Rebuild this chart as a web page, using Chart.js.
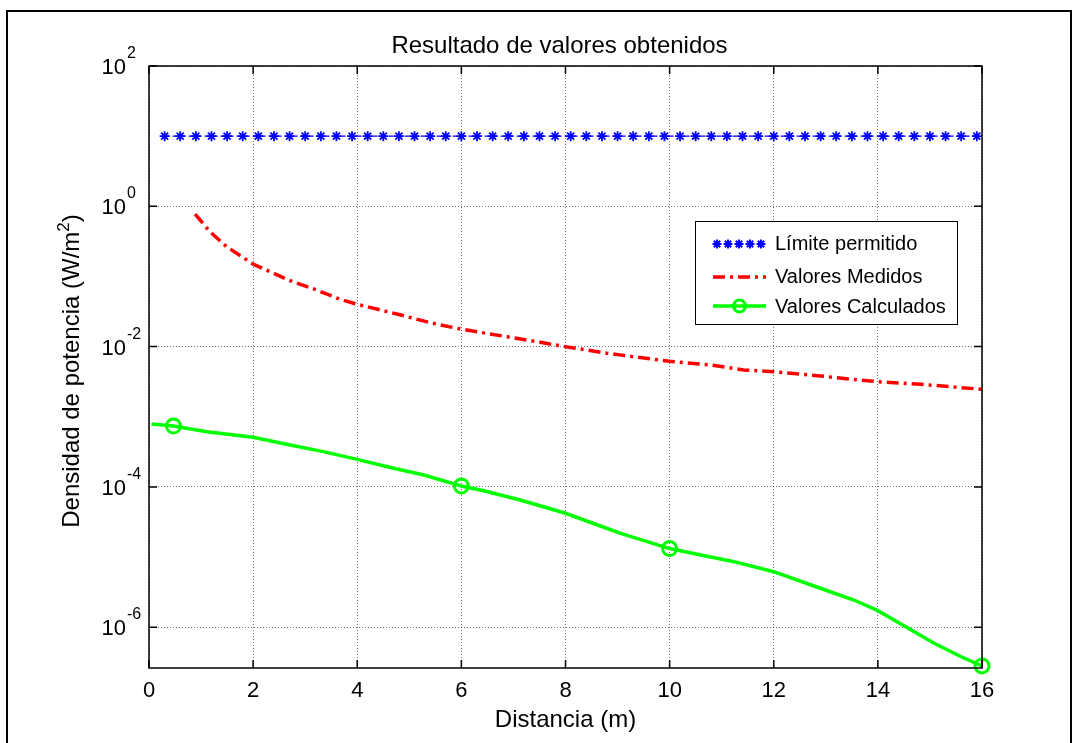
<!DOCTYPE html>
<html>
<head>
<meta charset="utf-8">
<script src="https://cdn.jsdelivr.net/npm/chart.js@4.4.1/dist/chart.umd.min.js"></script>
<style>
html,body{margin:0;padding:0;background:#fff;overflow:hidden}
canvas{display:block}
</style>
</head>
<body>
<canvas id="c" width="1079" height="743"></canvas>
<script>
// ---- texts ----
const chartTitle = 'Resultado de valores obtenidos';
const xAxisTitle = 'Distancia (m)';
const yAxisTitleMain = 'Densidad de potencia (W/m';
const yAxisTitleSup = '2';
const yAxisTitleEnd = ')';
const seriesNames = ['Límite permitido', 'Valores Medidos', 'Valores Calculados'];

// ---- ticks ----
const xTicks = [0, 2, 4, 6, 8, 10, 12, 14, 16];
const yTickExps = [2, 0, -2, -4, -6];
const yMin = 2.62e-7;
const yMax = 100;

// ---- series: Límite permitido ----
const limitX = [0.3,0.6,0.9,1.2,1.5,1.8,2.1,2.4,2.7,3.0,3.3,3.6,3.9,4.2,4.5,4.8,5.1,5.4,5.7,6.0,
  6.3,6.6,6.9,7.2,7.5,7.8,8.1,8.4,8.7,9.0,9.3,9.6,9.9,10.2,10.5,10.8,11.1,11.4,11.7,12.0,
  12.3,12.6,12.9,13.2,13.5,13.8,14.1,14.4,14.7,15.0,15.3,15.6,15.9];
const limitY = [10,10,10,10,10,10,10,10,10,10,10,10,10,10,10,10,10,10,10,10,
  10,10,10,10,10,10,10,10,10,10,10,10,10,10,10,10,10,10,10,10,
  10,10,10,10,10,10,10,10,10,10,10,10,10];

// ---- series: Valores Medidos ----
const medidosX = [0.885, 1.17, 1.49, 2, 2.39, 2.71, 3.22, 3.67, 4, 4.76, 5.4, 6, 6.88, 7.52, 8, 8.8, 10, 10.79, 11.42, 12, 12.9, 13.5, 14, 14.83, 16];
const medidosY = [0.776, 0.435, 0.266, 0.150, 0.111, 0.0869, 0.0641, 0.0472, 0.0401, 0.0292, 0.0219, 0.0177, 0.0138, 0.0115, 0.00998, 0.00802, 0.00617, 0.00547, 0.00464, 0.00439, 0.00381, 0.00342, 0.00316, 0.00290, 0.00246];

// ---- series: Valores Calculados ----
const calcX = [0.05, 0.47, 1.11, 2, 2.71, 3.35, 4, 4.7, 5.28, 6, 6.43, 7.13, 8, 8.67, 9.06, 10, 10.6, 11.24, 12, 12.84, 13.54, 14, 14.31, 14.7, 15.08, 15.6, 16];
const calcY = [7.89e-4, 7.38e-4, 6.12e-4, 5.09e-4, 3.95e-4, 3.18e-4, 2.47e-4, 1.84e-4, 1.48e-4, 1.03e-4, 8.83e-5, 6.50e-5, 4.21e-5, 2.77e-5, 2.18e-5, 1.32e-5, 1.07e-5, 8.59e-6, 6.18e-6, 3.71e-6, 2.44e-6, 1.72e-6, 1.27e-6, 8.63e-7, 5.89e-7, 3.79e-7, 2.80e-7];
const calcMarkerX = [0.47, 6, 10, 16];

const FONT = '"Liberation Sans", Arial, Helvetica, sans-serif';
const BLUE = '#0000ff', RED = '#ff0000', GREEN = '#00ff00';
const RED_DASH = [12, 5, 3, 5];

function toPts(xs, ys) { return xs.map((x, i) => ({x: x, y: ys[i]})); }

function drawStar(c, x, y, r) {
  const d = r * Math.SQRT1_2;
  c.beginPath();
  c.moveTo(x - r, y); c.lineTo(x + r, y);
  c.moveTo(x, y - r); c.lineTo(x, y + r);
  c.moveTo(x - d, y - d); c.lineTo(x + d, y + d);
  c.moveTo(x - d, y + d); c.lineTo(x + d, y - d);
  c.stroke();
}

const decor = {
  id: 'decor',
  beforeDraw(chart) {
    const c = chart.ctx;
    c.save();
    c.fillStyle = '#fff';
    c.fillRect(0, 0, chart.width, chart.height);
    c.strokeStyle = '#000';
    c.lineWidth = 2;
    c.strokeRect(7, 11, 1064, 800);
    c.restore();
  },
  afterDraw(chart) {
    const c = chart.ctx, a = chart.chartArea, xs = chart.scales.x, ys = chart.scales.y;
    c.save();
    // box
    c.strokeStyle = '#000';
    c.lineWidth = 1.5;
    c.setLineDash([]);
    c.strokeRect(a.left, a.top, a.right - a.left, a.bottom - a.top);
    // inward ticks
    c.beginPath();
    xTicks.forEach(v => {
      const px = xs.getPixelForValue(v);
      c.moveTo(px, a.bottom); c.lineTo(px, a.bottom - 8);
      c.moveTo(px, a.top); c.lineTo(px, a.top + 8);
    });
    yTickExps.forEach(e => {
      const py = ys.getPixelForValue(Math.pow(10, e));
      c.moveTo(a.left, py); c.lineTo(a.left + 8, py);
      c.moveTo(a.right, py); c.lineTo(a.right - 8, py);
    });
    c.stroke();

    c.fillStyle = '#000';
    c.textBaseline = 'alphabetic';
    // x tick labels
    c.font = '22px ' + FONT;
    c.textAlign = 'center';
    xTicks.forEach(v => c.fillText(String(v), xs.getPixelForValue(v), 697));
    // y tick labels
    yTickExps.forEach(e => {
      const py = ys.getPixelForValue(Math.pow(10, e));
      c.font = '22px ' + FONT;
      c.textAlign = 'right';
      c.fillText('10', a.left - 23, py + 8);
      c.font = '16px ' + FONT;
      c.textAlign = 'left';
      c.fillText(e < 0 ? '-' + (-e) : String(e), a.left - 22, py - 8);
    });
    // title
    const cx = (a.left + a.right) / 2;
    c.font = '24px ' + FONT;
    c.textAlign = 'center';
    c.fillText(chartTitle, cx - 6, 53);
    // x axis title
    c.font = '24px ' + FONT;
    c.fillText(xAxisTitle, cx, 727);
    // y axis title (rotated, with superscript)
    c.save();
    c.translate(79, 371);
    c.rotate(-Math.PI / 2);
    c.textAlign = 'left';
    c.font = '24px ' + FONT;
    const w1 = c.measureText(yAxisTitleMain).width;
    const w3 = c.measureText(yAxisTitleEnd).width;
    c.font = '17px ' + FONT;
    const w2 = c.measureText(yAxisTitleSup).width;
    let sx = -(w1 + w2 + w3) / 2;
    c.font = '24px ' + FONT;
    c.fillText(yAxisTitleMain, sx, 0);
    sx += w1;
    c.font = '17px ' + FONT;
    c.fillText(yAxisTitleSup, sx, -10);
    sx += w2;
    c.font = '24px ' + FONT;
    c.fillText(yAxisTitleEnd, sx, 0);
    c.restore();

    // legend
    const L = {x: 695, y: 221, w: 262, h: 103};
    c.fillStyle = '#fff';
    c.fillRect(L.x, L.y, L.w, L.h);
    c.strokeStyle = '#000';
    c.lineWidth = 1;
    c.strokeRect(L.x + 0.5, L.y + 0.5, L.w, L.h);
    const s0 = 713, s1 = 766, tx = 775;
    const rowBase = [250, 283, 313];
    const rowMid = [244, 277, 306];
    // row 1: stars
    c.strokeStyle = BLUE;
    c.lineWidth = 2;
    [717, 728, 739, 750, 761].forEach(px => drawStar(c, px, rowMid[0], 4.5));
    // row 2: dash-dot
    c.strokeStyle = RED;
    c.lineWidth = 3.5;
    c.setLineDash(RED_DASH);
    c.beginPath(); c.moveTo(s0, rowMid[1]); c.lineTo(s1, rowMid[1]); c.stroke();
    c.setLineDash([]);
    // row 3: line with circle
    c.strokeStyle = GREEN;
    c.lineWidth = 3.5;
    c.beginPath(); c.moveTo(s0, rowMid[2]); c.lineTo(s1, rowMid[2]); c.stroke();
    c.lineWidth = 3;
    c.beginPath(); c.arc((s0 + s1) / 2, rowMid[2], 6, 0, Math.PI * 2); c.stroke();
    // labels
    c.fillStyle = '#000';
    c.font = '20px ' + FONT;
    c.textAlign = 'left';
    seriesNames.forEach((n, i) => c.fillText(n, tx, rowBase[i]));
    c.restore();
  }
};

new Chart(document.getElementById('c'), {
  type: 'line',
  data: {
    datasets: [
      {
        label: seriesNames[0],
        data: toPts(limitX, limitY),
        borderColor: BLUE,
        borderWidth: 1.2,
        borderDash: [5, 3],
        pointStyle: 'star',
        pointRadius: 5,
        pointBorderWidth: 1.8,
        pointBorderColor: BLUE,
        pointBackgroundColor: BLUE,
        fill: false
      },
      {
        label: seriesNames[1],
        data: toPts(medidosX, medidosY),
        borderColor: RED,
        borderWidth: 3.5,
        borderDash: RED_DASH,
        pointRadius: 0,
        tension: 0,
        fill: false
      },
      {
        label: seriesNames[2],
        data: toPts(calcX, calcY),
        borderColor: GREEN,
        borderWidth: 3.5,
        pointStyle: 'circle',
        pointRadius: ctx => calcMarkerX.includes(calcX[ctx.dataIndex]) ? 7 : 0,
        pointBorderWidth: 3,
        pointBorderColor: GREEN,
        pointBackgroundColor: 'rgba(0,0,0,0)',
        tension: 0,
        clip: false,
        fill: false
      }
    ]
  },
  options: {
    responsive: false,
    animation: false,
    devicePixelRatio: 1,
    events: [],
    layout: {padding: {left: 149, right: 1079 - 982, top: 66, bottom: 743 - 668}},
    plugins: {legend: {display: false}, title: {display: false}, tooltip: {enabled: false}},
    scales: {
      x: {
        type: 'linear',
        min: 0,
        max: 16,
        afterBuildTicks: s => { s.ticks = xTicks.map(v => ({value: v})); },
        ticks: {display: false},
        grid: {color: 'rgba(0,0,0,0.55)', lineWidth: 1, drawTicks: false},
        border: {display: false, dash: [1, 2]}
      },
      y: {
        type: 'logarithmic',
        min: yMin,
        max: yMax,
        afterBuildTicks: s => { s.ticks = yTickExps.map(e => ({value: Math.pow(10, e)})); },
        ticks: {display: false},
        grid: {color: 'rgba(0,0,0,0.55)', lineWidth: 1, drawTicks: false},
        border: {display: false, dash: [1, 2]}
      }
    }
  },
  plugins: [decor]
});
</script>
</body>
</html>
